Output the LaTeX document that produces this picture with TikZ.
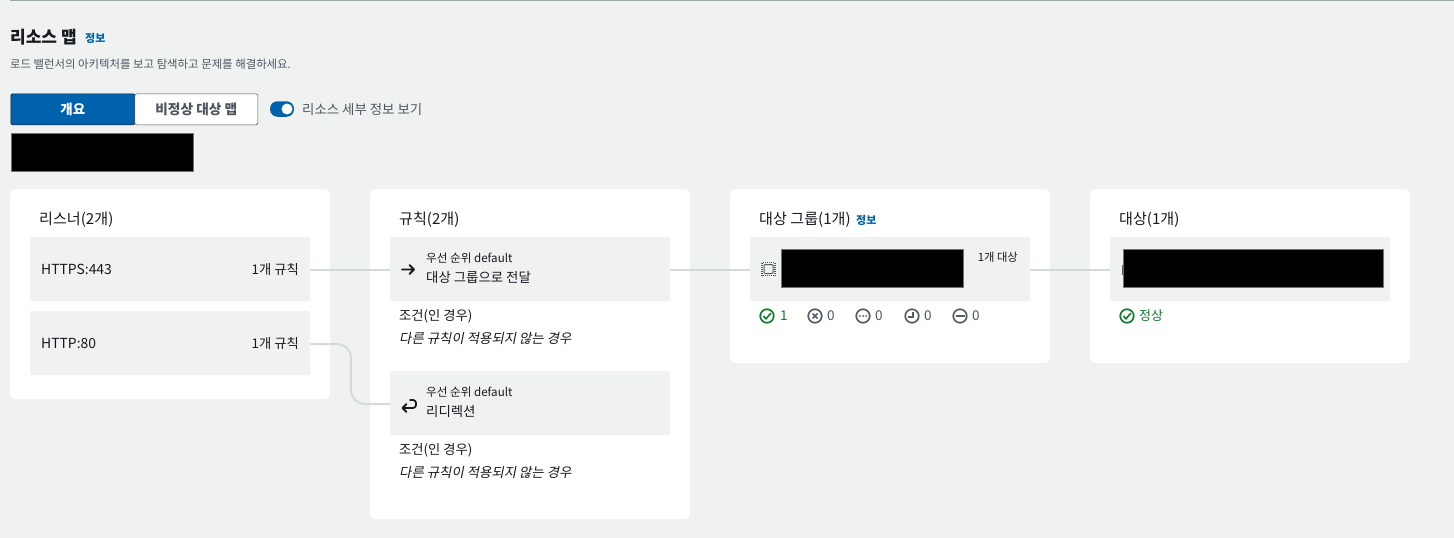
\documentclass[tikz,border=0pt]{standalone}
\usepackage{fontspec}
\setmainfont{Noto Sans CJK KR}
\newfontfamily\krit[FakeSlant=0.2]{Noto Sans CJK KR}
\usetikzlibrary{positioning}
\definecolor{pagebg}{HTML}{F0F2F2}
\definecolor{topline}{HTML}{9BA7A6}
\definecolor{boxbg}{HTML}{F0F1F1}
\definecolor{awsblue}{HTML}{0062AC}
\definecolor{linkblue}{HTML}{0063A8}
\definecolor{wire}{HTML}{D2DAD8}
\definecolor{ink}{HTML}{16191F}
\definecolor{subink}{HTML}{4E5660}
\definecolor{okgreen}{HTML}{0D7D2C}
\definecolor{icongrey}{HTML}{545B64}

\begin{document}
\begin{tikzpicture}[x=1pt,y=-1pt]
\tikzstyle{card}=[rectangle,rounded corners=5pt,fill=white,anchor=north west,inner sep=0pt]
\tikzstyle{row}=[rectangle,rounded corners=1.5pt,fill=boxbg,anchor=north west,inner sep=0pt,minimum width=280pt,minimum height=64pt]
\tikzstyle{redact}=[rectangle,fill=black,draw=black!55,line width=.4pt,anchor=north west,inner sep=0pt]
\tikzstyle{txt}=[anchor=west,inner sep=0pt,text=ink,font=\fontsize{15.1}{17}\selectfont]
\tikzstyle{small}=[anchor=west,inner sep=0pt,text=ink,font=\fontsize{13.3}{15}\selectfont]
\tikzstyle{link}=[anchor=west,inner sep=0pt,text=linkblue,font=\fontsize{11}{12}\selectfont\bfseries]
\tikzstyle{wireline}=[draw=wire,line width=1.9pt]
\tikzstyle{status}=[circle,draw,line width=1.7pt,minimum size=13.5pt,inner sep=0pt]
\tikzstyle{count}=[anchor=west,inner sep=0pt,font=\fontsize{13.5}{15}\selectfont]
\useasboundingbox (0,0) rectangle (1454,538);
\fill[pagebg] (0,0) rectangle (1454,538);
\draw[topline,line width=1pt] (10,.5) -- (1454,.5);

\node [txt,font=\fontsize{17}{19}\selectfont\bfseries] (title) at(10,37) {리소스 맵};
\node [link] (titleinfo) at(85,38.5) {정보};
\node [small,text=subink,font=\fontsize{11.4}{13}\selectfont] (subtitle) at(10,64.5) {로드 밸런서의 아키텍처를 보고 탐색하고 문제를 해결하세요.};

\node [rectangle,fill=awsblue,draw=ink,line width=.6pt,rounded corners=1.5pt,minimum width=124pt,minimum height=31pt,inner sep=0pt,anchor=north west,text=white,font=\fontsize{13.5}{15}\selectfont\bfseries] (tabmain) at(10.5,93.5) {개요};
\node [rectangle,fill=white,draw=subink,line width=.6pt,rounded corners=1.5pt,minimum width=123pt,minimum height=31pt,inner sep=0pt,anchor=north west,text=subink,font=\fontsize{13.7}{15}\selectfont\bfseries] (tabmap) at(134.5,93.5) {비정상 대상 맵};
\node [rectangle,rounded corners=7.5pt,fill=awsblue,minimum width=24pt,minimum height=15.5pt,inner sep=0pt] (toggle) at(282,109) {};
\node [circle,fill=white,minimum size=11pt,inner sep=0pt] (knob) at(287,109) {};
\node [small,text=subink,font=\fontsize{13.4}{15}\selectfont] (togglelabel) at(302,109) {리소스 세부 정보 보기};
\node [redact,minimum width=182pt,minimum height=37.5pt] (mask0) at(11,133.2) {};

\node [card,minimum width=320pt,minimum height=210pt] (listeners) at(10,189) {};
\node [card,minimum width=320pt,minimum height=330pt] (rules) at(370,189) {};
\node [card,minimum width=320pt,minimum height=174pt] (groups) at(730,189) {};
\node [card,minimum width=320pt,minimum height=174pt] (targets) at(1090,189) {};

\node [row] (lis1) at(30,237) {};
\node [row] (lis2) at(30,311) {};
\node [row] (rule1) at(390,237) {};
\node [row] (rule2) at(390,371) {};
\node [row] (group1) at(750,237) {};
\node [row] (target1) at(1110,237) {};

\coordinate (bend1) at(351,344);
\coordinate (bend2) at(351,404);
\path (lis1.east) ++(0,1) coordinate (wire1a);
\path (rule1.west) ++(0,1) coordinate (wire1b);
\path [wireline] (wire1a) edge (wire1b);
\path (rule1.east) ++(0,1) coordinate (wire2a);
\path (group1.west) ++(0,1) coordinate (wire2b);
\path [wireline] (wire2a) edge (wire2b);
\path (group1.east) ++(0,1) coordinate (wire3a);
\path (target1.west) ++(0,1) coordinate (wire3b);
\path [wireline] (wire3a) edge (wire3b);
\path (lis2.east) ++(0,1) coordinate (wire4a);
\path (rule2.west) ++(0,1) coordinate (wire4b);
\draw [wireline,rounded corners=14pt] (wire4a) -- (bend1) -- (bend2) -- (wire4b);

\node [txt] (listitle) at(39,219.5) {리스너(2개)};
\node [txt] (ruletitle) at(399,219.5) {규칙(2개)};
\node [txt] (grouptitle) at(759,219.5) {대상 그룹(1개)};
\node [link] (groupinfo) at(856,220.5) {정보};
\node [txt] (targettitle) at(1119,219.5) {대상(1개)};

\node [small,font=\fontsize{13.9}{15}\selectfont] (lis1name) at(41,269.5) {HTTPS:443};
\node [small,anchor=east] (lis1rule) at(299,269.5) {1개 규칙};
\node [small,font=\fontsize{13.9}{15}\selectfont] (lis2name) at(41,343.5) {HTTP:80};
\node [small,anchor=east] (lis2rule) at(299,343.5) {1개 규칙};

\node [small,font=\fontsize{11.6}{13}\selectfont] (prio1) at(426,258) {우선 순위 default};
\node [small,font=\fontsize{13.4}{15}\selectfont] (action1) at(426,277.5) {대상 그룹으로 전달};
\draw [ink,line width=1.8pt,line cap=round,line join=round] (402,269.5) -- (414,269.5) (409.5,265) -- (414,269.5) -- (409.5,274);
\node [small] (cond1) at(399,316) {조건(인 경우)};
\node [small,font=\krit\fontsize{13.4}{15}\selectfont] (none1) at(399,338) {다른 규칙이 적용되지 않는 경우};

\node [small,font=\fontsize{11.6}{13}\selectfont] (prio2) at(426,392) {우선 순위 default};
\node [small,font=\fontsize{13.4}{15}\selectfont] (action2) at(426,411.5) {리디렉션};
\draw [ink,line width=1.8pt,line cap=round,line join=round,rounded corners=3pt] (410,400) -- (416,400) -- (416,408) -- (403,408);
\draw [ink,line width=1.8pt,line cap=round,line join=round] (406.5,404) -- (402.5,408) -- (406.5,412);
\node [small] (cond2) at(399,450) {조건(인 경우)};
\node [small,font=\krit\fontsize{13.4}{15}\selectfont] (none2) at(399,472) {다른 규칙이 적용되지 않는 경우};

\node [rectangle,draw=icongrey,line width=1pt,rounded corners=1pt,minimum size=9pt,inner sep=0pt] (chip) at(768.5,269) {};
\draw [icongrey,line width=1.8pt,dash pattern=on .9pt off 1.1pt] (762,262.5) rectangle (775,275.5);
\node [redact,minimum width=182pt,minimum height=37.5pt] (mask1) at(781,249.2) {};
\node [small,font=\fontsize{11.3}{13}\selectfont,anchor=east] (groupcount) at(1018,257.5) {1개 대상};

\node [rectangle,draw=icongrey,line width=.9pt,minimum size=9pt,inner sep=0pt] (chip2) at(1127,270) {};
\node [redact,minimum width=259.5pt,minimum height=37.5pt] (mask2) at(1123,249.2) {};

\node [status,draw=okgreen,text=okgreen] (ok1) at(767,316) {};
\draw [okgreen,line width=1.6pt] (763.5,316) -- (766,318.8) -- (770.8,313.2);
\node [count,text=okgreen] (okcount) at(780,316) {1};
\node [status,draw=icongrey] (bad1) at(815,316) {};
\draw [icongrey,line width=1.6pt] (812.5,313.5) -- (817.5,318.5) (817.5,313.5) -- (812.5,318.5);
\node [count,text=subink] (badcount) at(827,316) {0};
\node [status,draw=icongrey] (busy1) at(863,316) {};
\fill [icongrey] (859.8,316) circle (1pt) (863,316) circle (1pt) (866.2,316) circle (1pt);
\node [count,text=subink] (busycount) at(875,316) {0};
\node [status,draw=icongrey] (clock1) at(912,316) {};
\draw [icongrey,line width=1.6pt] (913,311.5) -- (913,317) -- (908,317);
\node [count,text=subink] (clockcount) at(924,316) {0};
\node [status,draw=icongrey] (off1) at(960,316) {};
\draw [icongrey,line width=1.7pt] (955.5,316) -- (964.5,316);
\node [count,text=subink] (offcount) at(972,316) {0};

\node [status,draw=okgreen] (ok2) at(1127,316) {};
\draw [okgreen,line width=1.6pt] (1123.5,316) -- (1126,318.8) -- (1130.8,313.2);
\node [small,text=okgreen,font=\fontsize{13}{15}\selectfont] (oklabel) at(1139,315.5) {정상};
\end{tikzpicture}
\end{document}
